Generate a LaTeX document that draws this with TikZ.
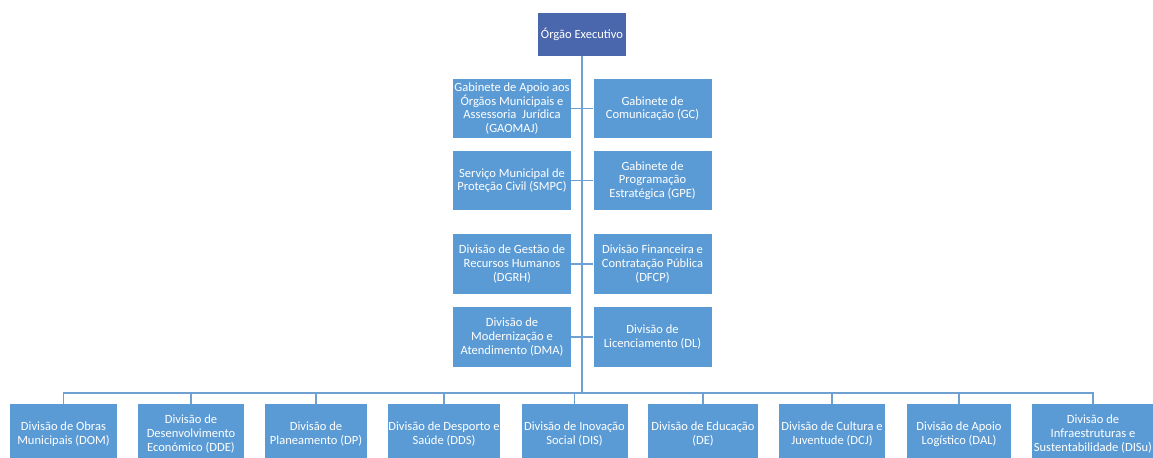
\documentclass[tikz,border=0pt]{standalone}
\usepackage{fontspec}
\setmainfont{Carlito}
\usetikzlibrary{positioning}

\definecolor{unitblue}{HTML}{5B9BD5}
\definecolor{headblue}{HTML}{4A66AC}
\definecolor{lineblue}{HTML}{6FA0D2}

\begin{document}
\begin{tikzpicture}[
    x=0.75pt, y=-0.75pt,
    node distance=16.5pt,
    headbox/.style={fill=headblue, text=white, align=center, minimum width=66pt, minimum height=32.25pt, inner sep=0pt, font=\fontsize{9.4}{10.4}\selectfont},
    staffbox/.style={fill=unitblue, text=white, align=center, minimum width=88.5pt, minimum height=44.5pt, inner sep=0pt, font=\fontsize{9.4}{10.2}\selectfont},
    divbox/.style={fill=unitblue, text=white, align=center, minimum height=45pt, inner sep=0pt, font=\fontsize{9.4}{10.5}\selectfont},
    link/.style={draw=lineblue, line width=1.5pt},
    tick/.style={draw=lineblue, line width=1pt}
]
\useasboundingbox (0,0) rectangle (1153,457);
\node[headbox] (exec) at (582,34.5) {Órgão Executivo};
% gabinetes e divisoes de apoio
\node[staffbox] (gaomaj) at (512,108.5) {Gabinete de Apoio aos\\Órgãos Municipais e\\Assessoria~ Jurídica\\(GAOMAJ)};
\node[staffbox, right=of gaomaj] (gc) {Gabinete de\\Comunicação (GC)};
\node[staffbox] (smpc) at (512,180.5) {Serviço Municipal de\\Proteção Civil (SMPC)};
\node[staffbox, right=of smpc] (gpe) {Gabinete de\\Programação\\Estratégica (GPE)};
\node[staffbox] (dgrh) at (512,264) {Divisão de Gestão de\\Recursos Humanos\\(DGRH)};
\node[staffbox, right=of dgrh] (dfcp) {Divisão Financeira e\\Contratação Pública\\(DFCP)};
\node[staffbox] (dma) at (512,337) {Divisão de\\Modernização e\\Atendimento (DMA)};
\node[staffbox, right=of dma] (dl) {Divisão de\\Licenciamento (DL)};
% divisoes
\node[divbox, minimum width=80.25pt] (dom) at (63.5,434) {Divisão de Obras\\Municipais (DOM)};
\node[divbox, minimum width=79.5pt] (dde) at (191,434) {Divisão de\\Desenvolvimento\\Económico (DDE)};
\node[divbox, minimum width=76.5pt] (dp) at (316,434) {Divisão de\\Planeamento (DP)};
\node[divbox, minimum width=84pt] (dds) at (444,434) {Divisão de Desporto e\\Saúde (DDS)};
\node[divbox, minimum width=79.5pt] (dis) at (574.5,434) {Divisão de Inovação\\Social (DIS)};
\node[divbox, minimum width=82.5pt] (de) at (703,434) {Divisão de Educação\\(DE)};
\node[divbox, minimum width=79.5pt] (dcj) at (832,434) {Divisão de Cultura e\\Juventude (DCJ)};
\node[divbox, minimum width=78pt] (dal) at (959,434) {Divisão de Apoio\\Logístico (DAL)};
\node[divbox, minimum width=91.5pt] (disu) at (1093,434) {Divisão de\\Infraestruturas e\\Sustentabilidade (DISu)};
\coordinate (spine) at (582,393);
\draw[link] (exec.south) -- (spine);
\draw[tick] (gaomaj) -- (gc);
\draw[tick] (smpc) -- (gpe);
\draw[tick] (dgrh) -- (dfcp);
\draw[tick] (dma) -- (dl);
\foreach \d in {dom,dde,dp,dds,dis,de,dcj,dal,disu}
  \draw[tick] (spine) -| (\d.north);
\end{tikzpicture}
\end{document}
